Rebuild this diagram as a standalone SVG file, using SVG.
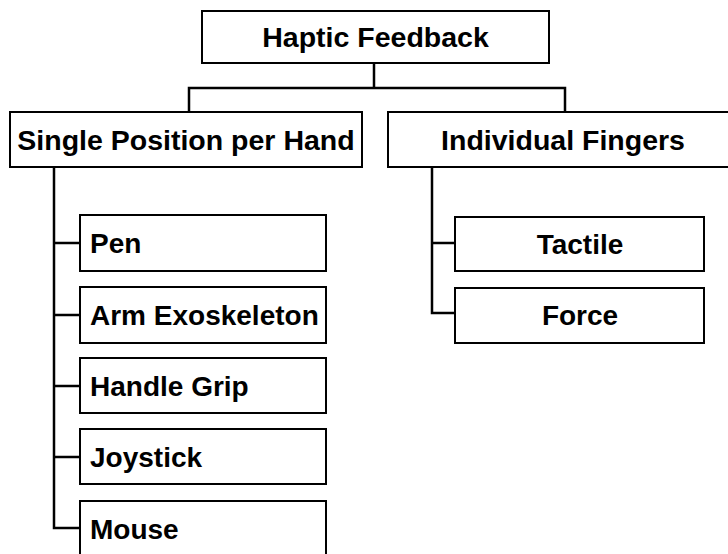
<svg xmlns="http://www.w3.org/2000/svg" width="728" height="554" viewBox="0 0 728 554">
<style>
.box{fill:#fff;stroke:#000;stroke-width:2}
.lbl{font-family:"Liberation Sans",Arial,sans-serif;font-weight:bold;font-size:28px;fill:#000}
.big{font-size:28.5px}
.c{text-anchor:middle}
.conn{fill:none;stroke:#000;stroke-width:2.5}
</style>
<rect width="728" height="554" fill="#fff"/>
<g id="connectors">
<path class="conn" d="M374,63 V88 M189,112 V88 H565 V112"/>
<path class="conn" d="M54,167 V528 H80 M54,243 H80 M54,315 H80 M54,386 H80 M54,457 H80"/>
<path class="conn" d="M432,167 V313 H455 M432,243 H455"/>
</g>
<g id="haptic"><rect class="box" x="202" y="11" width="347" height="52"/><text class="lbl big c" x="375.5" y="47">Haptic Feedback</text></g>
<g id="single"><rect class="box" x="10" y="112" width="352" height="55"/><text class="lbl big c" x="186" y="150">Single Position per Hand</text></g>
<g id="fingers"><rect class="box" x="388" y="112" width="345" height="55"/><text class="lbl big c" x="563" y="150">Individual Fingers</text></g>
<g id="pen"><rect class="box" x="80" y="215" width="246" height="56"/><text class="lbl" x="90" y="253">Pen</text></g>
<g id="arm"><rect class="box" x="80" y="287" width="246" height="56"/><text class="lbl" x="90" y="325">Arm Exoskeleton</text></g>
<g id="handle"><rect class="box" x="80" y="358" width="246" height="55"/><text class="lbl" x="90" y="396">Handle Grip</text></g>
<g id="joystick"><rect class="box" x="80" y="429" width="246" height="55"/><text class="lbl" x="90" y="467">Joystick</text></g>
<g id="mouse"><rect class="box" x="80" y="501" width="246" height="60"/><text class="lbl" x="90" y="539">Mouse</text></g>
<g id="tactile"><rect class="box" x="455" y="217" width="249" height="54"/><text class="lbl c" x="580" y="254">Tactile</text></g>
<g id="force"><rect class="box" x="455" y="288" width="249" height="55"/><text class="lbl c" x="580" y="325">Force</text></g>
</svg>
